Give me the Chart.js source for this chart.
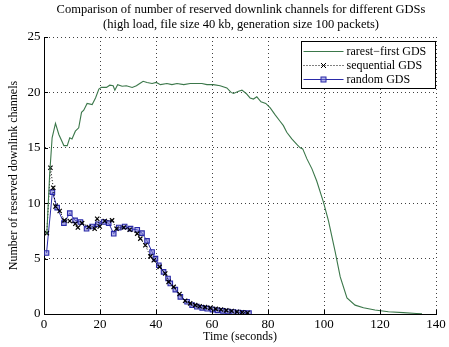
<!DOCTYPE html>
<html>
<head>
<meta charset="utf-8">
<script src="https://cdn.jsdelivr.net/npm/chart.js@4/dist/chart.umd.min.js"></script>
<style>
  html, body { margin: 0; padding: 0; background: #fff; }
  #wrap { width: 449px; height: 347px; position: relative; }
</style>
</head>
<body>
<div id="wrap"><canvas id="c" width="449" height="347"></canvas></div>
<script>
// Reserved downlink channels over time for three generation distribution schemes
const titleLines = [
  'Comparison of number of reserved downlink channels for different GDSs',
  '(high load, file size 40 kb, generation size 100 packets)'
];
const xTicks = [0, 20, 40, 60, 80, 100, 120, 140];
const yTicks = [0, 5, 10, 15, 20, 25];

// rarest-first GDS
const rarestTime = [1.0, 2.0, 2.9, 4.1, 5.3, 7.1, 8.3, 9.2, 10.0, 11.2, 12.4, 13.4, 14.2, 15.4, 17.2, 18.4, 19.6, 20.5, 22.3, 23.5, 24.7, 25.3, 26.3, 27.9, 29.4, 31.5, 33.0, 34.2, 35.4, 36.8, 38.6, 40.1, 41.6, 43.9, 45.7, 47.5, 49.9, 52.2, 54.0, 56.4, 58.2, 60.5, 62.9, 65.3, 66.8, 67.7, 69.5, 70.7, 72.2, 73.6, 74.8, 76.0, 77.5, 79.2, 80.8, 82.5, 84.3, 85.5, 86.7, 88.5, 90.3, 91.5, 92.4, 93.9, 95.7, 97.4, 99.8, 101.6, 104.0, 105.8, 108.2, 111.1, 114.1, 118.2, 123.0, 128.3, 133.0, 135.0];
const rarestChannels = [7.2, 12.5, 15.9, 17.2, 16.2, 15.2, 15.2, 15.9, 15.8, 16.5, 16.8, 18.2, 18.4, 19.0, 18.9, 19.5, 20.3, 20.45, 20.45, 20.65, 20.6, 20.2, 20.7, 20.55, 20.6, 20.45, 20.6, 20.8, 21.0, 20.9, 20.8, 20.9, 20.7, 20.8, 20.7, 20.8, 20.7, 20.8, 20.8, 20.8, 20.7, 20.7, 20.6, 20.4, 20.0, 19.9, 20.1, 20.2, 19.9, 19.5, 19.4, 19.6, 19.15, 19.0, 18.6, 18.0, 17.4, 17.0, 16.4, 15.8, 15.3, 15.0, 14.9, 14.0, 13.1, 12.0, 10.1, 8.4, 5.6, 3.35, 1.46, 0.8, 0.57, 0.36, 0.2, 0.12, 0.05, 0.02];

// sequential GDS
const seqTime = [1.0, 2.3, 3.3, 4.1, 5.6, 7.3, 9.2, 11.2, 12.1, 13.6, 16.0, 18.1, 19.0, 19.9, 21.7, 24.3, 25.9, 28.5, 30.6, 33.3, 34.4, 36.2, 38.0, 39.2, 41.3, 43.3, 44.5, 46.3, 48.4, 50.4, 52.2, 54.0, 55.6, 57.5, 59.4, 61.3, 63.2, 65.1, 67.0, 68.9, 70.8, 72.7];
const seqChannels = [7.3, 13.2, 11.4, 9.7, 9.3, 8.45, 8.4, 8.15, 7.8, 8.2, 7.85, 7.7, 8.6, 7.9, 8.4, 8.45, 7.7, 7.8, 7.6, 7.25, 6.8, 6.2, 5.2, 4.85, 4.25, 3.65, 2.9, 2.45, 1.8, 1.2, 0.96, 0.8, 0.7, 0.62, 0.55, 0.46, 0.4, 0.33, 0.27, 0.2, 0.15, 0.1];

// random GDS
const randTime = [0.9, 3.0, 4.7, 7.1, 9.2, 11.1, 13.0, 15.2, 17.2, 19.2, 21.3, 23.1, 24.9, 26.7, 28.8, 30.9, 33.3, 35.0, 36.8, 38.6, 39.8, 41.0, 42.7, 44.3, 45.1, 46.9, 48.7, 51.1, 52.9, 54.6, 56.5, 58.3, 60.2, 62.0, 63.9, 65.7, 67.6, 69.4, 71.3, 73.2];
const randChannels = [5.5, 11.0, 9.6, 8.2, 9.1, 8.45, 8.3, 7.7, 7.9, 8.1, 8.3, 8.2, 7.25, 7.8, 7.9, 7.7, 7.6, 7.3, 6.6, 5.6, 5.0, 4.4, 3.8, 3.2, 2.76, 2.2, 1.55, 1.1, 0.8, 0.66, 0.55, 0.48, 0.4, 0.33, 0.28, 0.22, 0.18, 0.14, 0.1, 0.08];

const seriesNames = ['rarest\u2212first GDS', 'sequential GDS', 'random GDS'];

const GREEN = '#3b774a';
const BLUE = '#2a2aa8';
const SERIF = '"Liberation Serif", "Times New Roman", serif';

const pairs = (xs, ys) => xs.map((x, i) => ({ x: x, y: ys[i] }));

Chart.defaults.font.family = SERIF;
Chart.defaults.color = '#000';

// Two-line heading above the axes
const headingPlugin = {
  id: 'heading',
  afterDraw(chart) {
    const ctx = chart.ctx;
    const a = chart.chartArea;
    const cx = (a.left + a.right) / 2 + 1;
    ctx.save();
    ctx.fillStyle = '#000';
    ctx.font = '12.5px ' + SERIF;
    ctx.textAlign = 'center';
    ctx.textBaseline = 'middle';
    ctx.fillText(titleLines[0], cx, 10);
    ctx.fillText(titleLines[1], cx, 24.5);
    ctx.restore();
  }
};

// Inward tick marks on the left and bottom axes
const tickPlugin = {
  id: 'inwardTicks',
  afterDatasetsDraw(chart) {
    const ctx = chart.ctx;
    const a = chart.chartArea;
    const xs = chart.scales.x, ys = chart.scales.y;
    ctx.save();
    ctx.strokeStyle = '#000';
    ctx.lineWidth = 1;
    ctx.beginPath();
    xTicks.forEach(v => {
      const px = Math.round(xs.getPixelForValue(v)) + 0.5;
      ctx.moveTo(px, a.bottom);
      ctx.lineTo(px, a.bottom - 4);
    });
    yTicks.forEach(v => {
      const py = Math.round(ys.getPixelForValue(v)) + 0.5;
      ctx.moveTo(a.left, py);
      ctx.lineTo(a.left + 4, py);
    });
    ctx.stroke();
    ctx.restore();
  }
};

// Boxed legend in the upper right corner of the axes
const legendPlugin = {
  id: 'boxLegend',
  afterDraw(chart) {
    const ctx = chart.ctx;
    const a = chart.chartArea;
    const w = 134, h = 47;
    const x0 = a.right - w - 0.5, y0 = a.top + 4.5;
    ctx.save();
    ctx.fillStyle = '#fff';
    ctx.fillRect(x0, y0, w, h);
    ctx.strokeStyle = '#000';
    ctx.lineWidth = 1;
    ctx.strokeRect(x0, y0, w, h);
    const rows = [y0 + 9.5, y0 + 23.5, y0 + 37.5];
    const lx1 = x0 + 2, lx2 = x0 + 42, mid = (lx1 + lx2) / 2;
    chart.data.datasets.forEach((ds, i) => {
      const y = Math.round(rows[i]) + 0.5;
      ctx.strokeStyle = ds.borderColor;
      ctx.lineWidth = 1;
      ctx.setLineDash(ds.borderDash || []);
      ctx.beginPath();
      ctx.moveTo(lx1, y);
      ctx.lineTo(lx2, y);
      ctx.stroke();
      ctx.setLineDash([]);
      if (ds.pointStyle === 'crossRot') {
        ctx.strokeStyle = '#000';
        ctx.beginPath();
        ctx.moveTo(mid - 2.5, y - 2.5); ctx.lineTo(mid + 2.5, y + 2.5);
        ctx.moveTo(mid - 2.5, y + 2.5); ctx.lineTo(mid + 2.5, y - 2.5);
        ctx.stroke();
      } else if (ds.pointStyle === 'rect') {
        ctx.fillStyle = ds.pointBackgroundColor;
        ctx.fillRect(mid - 2.5, y - 2.5, 5, 5);
        ctx.strokeStyle = ds.pointBorderColor;
        ctx.strokeRect(mid - 2.5, y - 2.5, 5, 5);
      }
      ctx.fillStyle = '#000';
      ctx.font = '12px ' + SERIF;
      ctx.textAlign = 'left';
      ctx.textBaseline = 'middle';
      ctx.fillText(seriesNames[i], x0 + 45, y);
    });
    ctx.restore();
  }
};

new Chart(document.getElementById('c'), {
  type: 'line',
  data: {
    datasets: [
      {
        label: seriesNames[0],
        data: pairs(rarestTime, rarestChannels),
        borderColor: GREEN,
        borderWidth: 1.1,
        pointRadius: 0,
        tension: 0
      },
      {
        label: seriesNames[1],
        data: pairs(seqTime, seqChannels),
        borderColor: '#000',
        borderWidth: 1,
        borderDash: [1, 2],
        pointStyle: 'crossRot',
        pointRadius: 3,
        pointBorderColor: '#000',
        pointBorderWidth: 1.2,
        tension: 0
      },
      {
        label: seriesNames[2],
        data: pairs(randTime, randChannels),
        borderColor: BLUE,
        borderWidth: 1,
        pointStyle: 'rect',
        pointRadius: 3.2,
        pointBorderColor: BLUE,
        pointBackgroundColor: 'rgba(120,120,215,0.55)',
        pointBorderWidth: 1.1,
        tension: 0
      }
    ]
  },
  options: {
    responsive: false,
    animation: false,
    layout: { padding: { top: 37, right: 13, left: 0, bottom: 0 } },
    plugins: {
      legend: { display: false },
      tooltip: { enabled: false },
      title: { display: false }
    },
    scales: {
      x: {
        type: 'linear',
        min: 0, max: 140,
        afterBuildTicks(scale) { scale.ticks = xTicks.map(v => ({ value: v })); },
        afterFit(scale) { scale.height = 33; },
        ticks: { font: { size: 13 }, padding: 3, color: '#000' },
        grid: { color: 'rgba(0,0,0,0.75)', lineWidth: 1, drawTicks: false },
        border: { display: true, color: '#000', width: 1, dash: [1, 3] },
        title: { display: true, text: 'Time (seconds)', font: { size: 12 }, padding: { top: 0, bottom: 2.5 }, color: '#000' }
      },
      y: {
        min: 0, max: 25,
        afterBuildTicks(scale) { scale.ticks = yTicks.map(v => ({ value: v })); },
        afterFit(scale) { scale.width = 44; },
        ticks: { font: { size: 13 }, padding: 3.5, color: '#000' },
        grid: { color: 'rgba(0,0,0,0.75)', lineWidth: 1, drawTicks: false },
        border: { display: true, color: '#000', width: 1, dash: [1, 3] },
        title: { display: true, text: 'Number of reserved downlink channels', font: { size: 12 }, padding: { top: 7, bottom: 0 }, color: '#000' }
      }
    }
  },
  plugins: [headingPlugin, tickPlugin, legendPlugin]
});
</script>
</body>
</html>
